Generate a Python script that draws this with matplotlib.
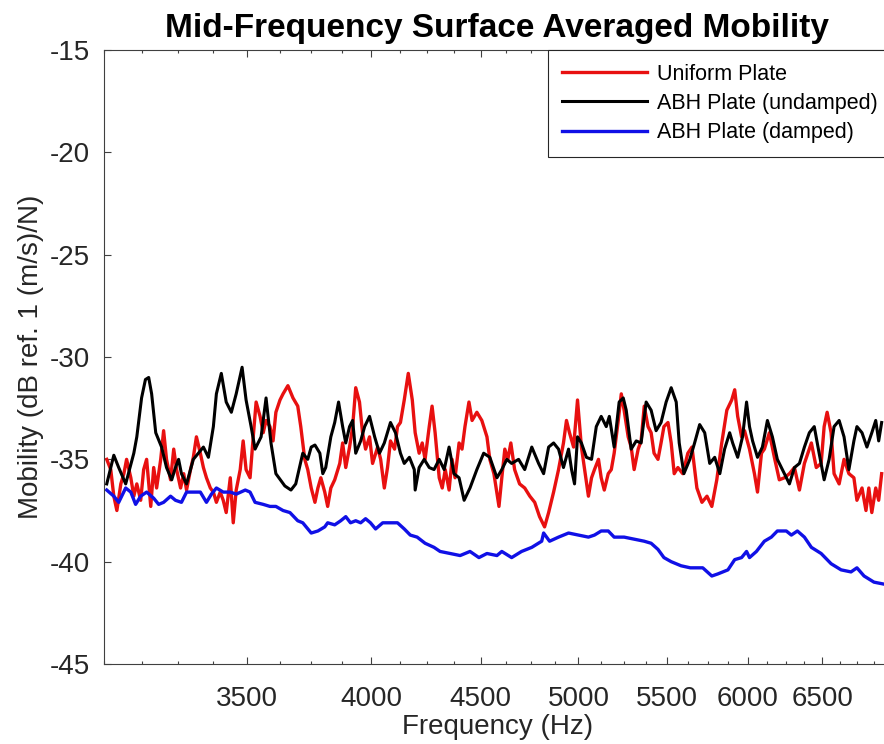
import matplotlib
matplotlib.use("Agg")
import matplotlib.pyplot as plt
from matplotlib.ticker import FixedLocator, FixedFormatter, NullFormatter
import numpy as np

plt.rcParams['font.family'] = ['Liberation Sans', 'DejaVu Sans']
plt.rcParams['axes.unicode_minus'] = False

# Surface averaged mobility, dB ref. 1 (m/s)/N
uniform_freq = [3009, 3022, 3032, 3042, 3055, 3065, 3074, 3088, 3098, 3108, 3121, 3131, 3141, 3155, 3165, 3175,
                3189, 3199, 3209, 3223, 3234, 3244, 3258, 3269, 3279, 3293, 3303, 3314, 3328, 3339, 3350, 3364,
                3375, 3386, 3400, 3411, 3422, 3437, 3448, 3459, 3474, 3485, 3496, 3511, 3523, 3534, 3549, 3561,
                3572, 3587, 3599, 3610, 3626, 3638, 3657, 3677, 3696, 3708, 3724, 3736, 3750, 3765, 3777, 3789,
                3805, 3817, 3830, 3846, 3867, 3879, 3892, 3908, 3921, 3934, 3950, 3963, 3976, 3993, 4006, 4028,
                4041, 4057, 4071, 4084, 4102, 4115, 4128, 4145, 4163, 4181, 4194, 4212, 4226, 4239, 4258, 4271,
                4285, 4304, 4318, 4332, 4350, 4364, 4378, 4397, 4411, 4425, 4444, 4459, 4482, 4506, 4531, 4545,
                4565, 4590, 4604, 4619, 4634, 4649, 4668, 4693, 4719, 4745, 4770, 4795, 4821, 4842, 4868, 4894,
                4920, 4936, 4952, 4974, 4995, 5016, 5032, 5054, 5071, 5087, 5109, 5124, 5141, 5163, 5180, 5196,
                5219, 5236, 5252, 5275, 5292, 5309, 5332, 5349, 5367, 5389, 5407, 5424, 5447, 5465, 5482, 5506,
                5525, 5543, 5565, 5594, 5625, 5650, 5680, 5711, 5742, 5772, 5803, 5834, 5866, 5897, 5916, 5935,
                5960, 5979, 6011, 6043, 6063, 6089, 6108, 6141, 6174, 6207, 6241, 6275, 6309, 6343, 6377, 6425,
                6459, 6493, 6514, 6535, 6563, 6584, 6620, 6655, 6690, 6726, 6748, 6785, 6814, 6835, 6857, 6886,
                6908, 6930]
uniform_db = [-35.0, -35.5, -36.8, -37.5, -36.2, -35.7, -35.0, -35.9, -36.8, -36.2, -37.0, -35.5, -35.0, -37.3, -35.4, -36.4,
              -35.0, -33.6, -35.0, -36.0, -34.5, -35.5, -36.4, -35.7, -36.5, -35.5, -34.9, -33.9, -34.7, -35.4, -35.9, -36.4,
              -36.6, -37.1, -36.6, -37.0, -37.6, -35.9, -38.1, -36.5, -35.5, -34.1, -35.5, -35.9, -33.9, -32.2, -32.9, -33.7,
              -33.1, -33.4, -34.1, -32.7, -32.1, -31.8, -31.4, -32.0, -32.4, -33.4, -35.0, -35.5, -36.4, -37.1, -36.4, -35.9,
              -36.6, -37.3, -36.4, -36.0, -35.2, -34.2, -35.4, -34.4, -33.4, -31.5, -32.2, -33.7, -34.5, -33.9, -35.2, -34.4,
              -35.0, -36.4, -35.4, -34.1, -34.5, -33.4, -33.2, -32.1, -30.8, -32.1, -33.7, -34.7, -34.2, -35.0, -33.4, -32.4,
              -33.7, -35.9, -36.4, -35.5, -36.5, -35.0, -35.9, -34.2, -34.5, -33.4, -32.2, -33.1, -32.7, -33.1, -33.9, -35.0,
              -35.7, -37.3, -35.9, -34.5, -35.0, -34.2, -35.5, -36.2, -36.4, -36.8, -37.1, -37.8, -38.3, -37.6, -36.6, -35.5,
              -34.2, -33.1, -33.7, -34.4, -32.1, -34.4, -35.4, -36.8, -35.9, -35.5, -35.0, -35.9, -36.5, -35.7, -35.5, -34.7,
              -33.1, -31.8, -32.6, -33.9, -34.4, -35.5, -34.5, -34.1, -32.4, -33.4, -33.7, -34.7, -35.0, -34.2, -33.4, -33.2,
              -34.2, -35.7, -35.4, -35.7, -34.7, -34.4, -36.4, -37.1, -36.8, -37.3, -36.0, -34.2, -32.6, -32.1, -31.6, -32.9,
              -33.9, -33.6, -34.5, -35.7, -36.6, -34.7, -34.5, -33.7, -34.9, -36.0, -35.9, -35.7, -35.4, -36.5, -35.2, -34.2,
              -35.4, -35.2, -33.4, -32.7, -33.7, -35.7, -36.2, -35.0, -35.7, -35.9, -37.0, -36.4, -37.5, -36.4, -37.6, -36.4,
              -37.0, -35.7]

undamped_freq = [3009, 3032, 3048, 3071, 3098, 3108, 3124, 3137, 3148, 3158, 3172, 3192, 3209, 3227, 3240, 3251,
                 3261, 3279, 3303, 3321, 3339, 3357, 3375, 3386, 3404, 3422, 3441, 3459, 3481, 3496, 3515, 3530,
                 3553, 3572, 3591, 3610, 3645, 3669, 3688, 3716, 3736, 3750, 3765, 3785, 3797, 3809, 3830, 3846,
                 3862, 3879, 3892, 3908, 3921, 3934, 3955, 3972, 3993, 4015, 4036, 4057, 4084, 4106, 4128, 4145,
                 4168, 4190, 4194, 4212, 4235, 4258, 4280, 4304, 4327, 4350, 4373, 4397, 4421, 4449, 4482, 4515,
                 4545, 4580, 4604, 4629, 4653, 4688, 4719, 4755, 4790, 4816, 4842, 4868, 4894, 4920, 4947, 4963,
                 4979, 4995, 5016, 5043, 5071, 5097, 5124, 5152, 5169, 5196, 5224, 5247, 5264, 5292, 5321, 5349,
                 5378, 5407, 5436, 5465, 5495, 5525, 5555, 5573, 5601, 5637, 5666, 5697, 5728, 5759, 5790, 5822,
                 5852, 5884, 5903, 5935, 5966, 5992, 6011, 6031, 6063, 6095, 6128, 6161, 6194, 6241, 6275, 6309,
                 6343, 6377, 6411, 6445, 6479, 6514, 6549, 6584, 6620, 6655, 6690, 6726, 6748, 6785, 6821, 6857,
                 6886, 6908, 6930]
undamped_db = [-36.2, -34.8, -35.4, -36.2, -34.7, -33.9, -32.0, -31.1, -31.0, -31.8, -33.7, -34.4, -35.4, -36.0, -35.4, -35.0,
               -35.7, -36.2, -35.0, -34.7, -34.4, -34.9, -33.4, -31.8, -30.8, -32.2, -32.7, -31.8, -30.5, -32.1, -33.4, -34.5,
               -33.9, -32.0, -34.2, -35.7, -36.3, -36.5, -36.2, -34.7, -35.0, -34.4, -34.3, -34.7, -35.7, -35.4, -33.9, -33.2,
               -32.2, -33.4, -34.2, -33.4, -33.1, -34.7, -34.1, -33.4, -32.9, -33.9, -34.7, -34.2, -33.2, -33.7, -34.7, -35.2,
               -34.9, -35.5, -36.5, -35.4, -35.0, -35.4, -35.5, -35.0, -35.5, -34.4, -35.7, -35.9, -37.0, -36.4, -35.5, -34.7,
               -34.9, -35.9, -35.5, -35.0, -35.2, -35.0, -35.5, -34.4, -35.2, -35.7, -34.4, -34.2, -34.5, -35.4, -34.5, -35.5,
               -36.2, -33.9, -34.2, -34.9, -35.0, -33.4, -32.9, -33.4, -32.9, -34.4, -32.2, -32.0, -32.6, -34.5, -34.1, -34.2,
               -32.2, -32.6, -33.6, -33.2, -32.2, -31.5, -32.2, -34.2, -35.7, -35.0, -34.2, -33.3, -33.7, -35.2, -34.9, -35.7,
               -34.5, -33.7, -34.2, -34.9, -33.9, -32.2, -33.4, -34.1, -34.9, -34.4, -33.1, -33.9, -35.0, -35.7, -36.2, -35.4,
               -35.2, -34.4, -33.7, -33.4, -34.7, -36.0, -35.0, -33.4, -33.1, -33.9, -35.5, -34.1, -33.4, -33.7, -34.4, -33.7,
               -33.1, -34.1, -33.2]

damped_freq = [3009, 3032, 3048, 3071, 3088, 3104, 3121, 3141, 3165, 3182, 3199, 3223, 3240, 3261, 3279, 3303,
               3328, 3350, 3368, 3386, 3411, 3437, 3459, 3493, 3511, 3530, 3561, 3587, 3610, 3638, 3665, 3696,
               3716, 3750, 3777, 3805, 3817, 3846, 3871, 3892, 3912, 3934, 3955, 3976, 3997, 4019, 4050, 4080,
               4115, 4145, 4172, 4203, 4239, 4280, 4308, 4355, 4402, 4449, 4492, 4531, 4580, 4604, 4653, 4703,
               4755, 4806, 4816, 4847, 4894, 4947, 5000, 5054, 5087, 5124, 5163, 5196, 5252, 5309, 5367, 5407,
               5447, 5482, 5525, 5584, 5640, 5716, 5772, 5809, 5873, 5916, 5960, 5992, 6011, 6056, 6108, 6154,
               6194, 6254, 6288, 6329, 6377, 6425, 6493, 6563, 6634, 6705, 6748, 6800, 6873, 6950]
damped_db = [-36.5, -36.8, -37.1, -36.4, -36.6, -37.2, -36.8, -36.6, -36.9, -37.2, -37.1, -36.8, -37.0, -37.1, -36.6, -36.6,
             -36.6, -37.1, -36.7, -36.4, -36.6, -36.6, -36.7, -36.5, -36.6, -37.1, -37.2, -37.3, -37.3, -37.5, -37.6, -38.0,
             -38.1, -38.6, -38.5, -38.3, -38.1, -38.2, -38.0, -37.8, -38.1, -38.0, -38.1, -37.9, -38.1, -38.4, -38.1, -38.1,
             -38.1, -38.4, -38.7, -38.8, -39.1, -39.3, -39.5, -39.6, -39.7, -39.5, -39.8, -39.6, -39.7, -39.5, -39.8, -39.5,
             -39.3, -39.0, -38.6, -39.0, -38.8, -38.6, -38.7, -38.8, -38.7, -38.5, -38.5, -38.8, -38.8, -38.9, -39.0, -39.1,
             -39.4, -39.8, -40.0, -40.2, -40.3, -40.3, -40.7, -40.6, -40.4, -39.9, -39.8, -39.5, -39.8, -39.5, -39.0, -38.8,
             -38.5, -38.5, -38.7, -38.5, -38.8, -39.3, -39.6, -40.1, -40.4, -40.5, -40.3, -40.7, -41.0, -41.1]

xticks = [3500, 4000, 4500, 5000, 5500, 6000, 6500]
yticks = [-45, -40, -35, -30, -25, -20, -15]

# Set up figure
f = plt.figure(figsize=(8.84, 7.44), dpi=100)
ax = f.add_axes([0.1176, 0.1075, 0.8903, 0.8253])

ax.plot(uniform_freq, uniform_db, color='#e81010', lw=2.4, label='Uniform Plate')
ax.plot(undamped_freq, undamped_db, color='black', lw=2.2, label='ABH Plate (undamped)')
ax.plot(damped_freq, damped_db, color='#1010e6', lw=2.4, label='ABH Plate (damped)')

ax.set_xscale('log')
ax.set_xlim(3000, 7000)
ax.set_ylim(-45, -15)

ax.xaxis.set_major_locator(FixedLocator(xticks))
ax.xaxis.set_major_formatter(FixedFormatter([str(t) for t in xticks]))
ax.xaxis.set_minor_locator(FixedLocator(np.arange(3000, 7001, 125)))
ax.xaxis.set_minor_formatter(NullFormatter())
ax.set_yticks(yticks)

ax.tick_params(which='both', direction='in', top=True, right=True,
               color='#404040', labelcolor='#262626', labelsize=20)
ax.tick_params(which='major', length=5, width=0.8)
ax.tick_params(which='minor', length=2.5, width=0.8)
ax.tick_params(axis='x', pad=16)
ax.tick_params(axis='y', pad=10)
for s in ax.spines.values():
    s.set_color('#404040')
    s.set_linewidth(0.8)

ax.set_title('Mid-Frequency Surface Averaged Mobility', fontsize=24, fontweight='bold', pad=9)
ax.set_xlabel('Frequency (Hz)', fontsize=20, color='#262626', labelpad=1)
ax.set_ylabel('Mobility (dB ref. 1 (m/s)/N)', fontsize=20, color='#262626', labelpad=4)

leg = ax.legend(loc='upper right', bbox_to_anchor=(1, 1), borderaxespad=0, fontsize=15.5,
                fancybox=False, edgecolor='#262626', framealpha=1, handlelength=3.95,
                handletextpad=0.47, borderpad=0.63, labelspacing=0.39)
leg.get_frame().set_linewidth(0.8)

f.savefig('out.png', dpi=100)
